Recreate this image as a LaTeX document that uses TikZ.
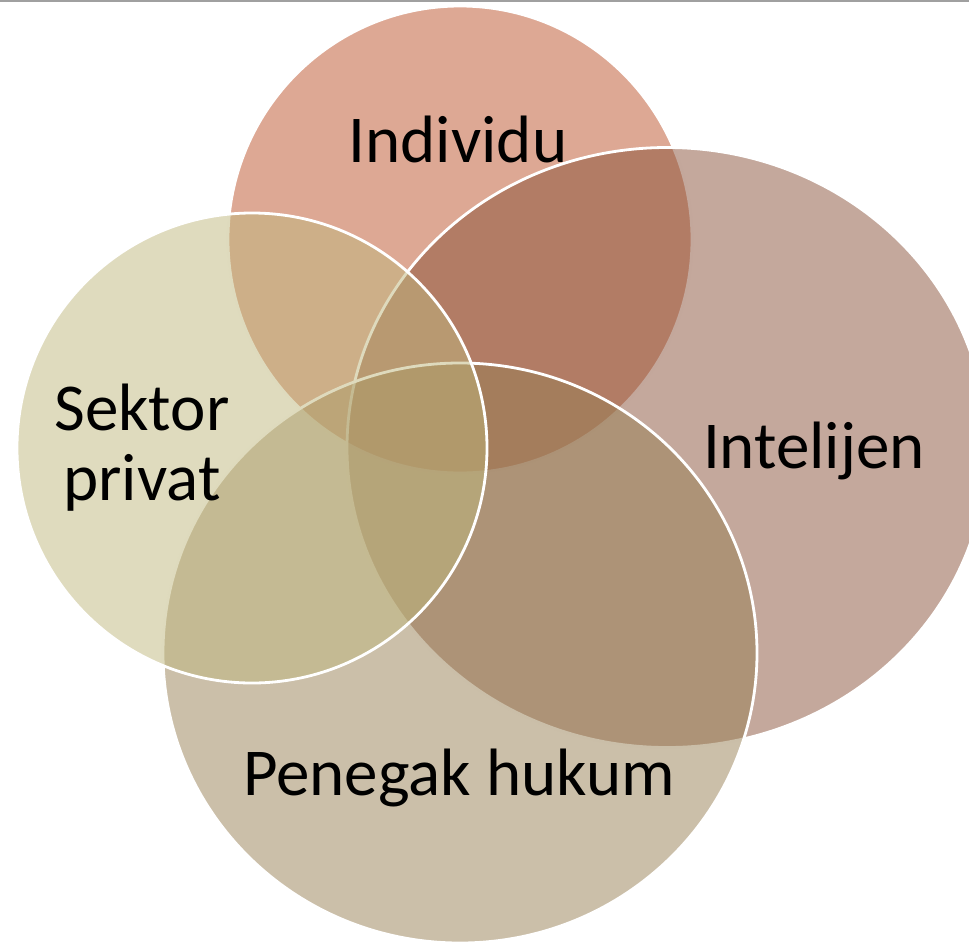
\documentclass[tikz,border=0pt]{standalone}
\usepackage{fontspec}
\setmainfont{Carlito}
\usetikzlibrary{positioning}

\definecolor{indivfill}{HTML}{BB5129}
\definecolor{intelfill}{HTML}{895139}
\definecolor{hukumfill}{HTML}{977F53}
\definecolor{privatfill}{HTML}{BFB77D}
\definecolor{rulegray}{HTML}{A0A0A0}

\begin{document}
\begin{tikzpicture}[x=1pt,y=-1pt,
    set/.style={draw=white,line width=2.8pt,fill opacity=0.5},
    setlabel/.style={font=\fontsize{67}{70}\selectfont,text=black,inner sep=0pt}]

  \useasboundingbox (0,0) rectangle (969,943);

  % thin rule along the top edge
  \draw [line width=2pt,color=rulegray] (0,1) -- (969,1);

  % the four overlapping sets, later ones on top
  \begin{scope}
    \clip (0,2) rectangle (969,943);
    \path [set,fill=indivfill]  (460,239.5) ellipse [x radius=232pt,y radius=233.5pt];
    \path [set,fill=intelfill]  (667,447.5) ellipse [x radius=320pt,y radius=300pt];
    \path [set,fill=hukumfill]  (460,653)   ellipse [x radius=297pt,y radius=290pt];
    \path [set,fill=privatfill] (252,448)   ellipse [x radius=235pt,y radius=235pt];
  \end{scope}

  % labels
  \node [setlabel,anchor=base] (individu) at (458,162) {Individu};
  \node [setlabel,anchor=base] (intelijen) at (814,468) {Intelijen};
  \node [setlabel,anchor=base] (hukum) at (459,795) {Penegak hukum};
  \node [setlabel,align=center] (privat) at (142,448) {Sektor\\privat};

\end{tikzpicture}
\end{document}
